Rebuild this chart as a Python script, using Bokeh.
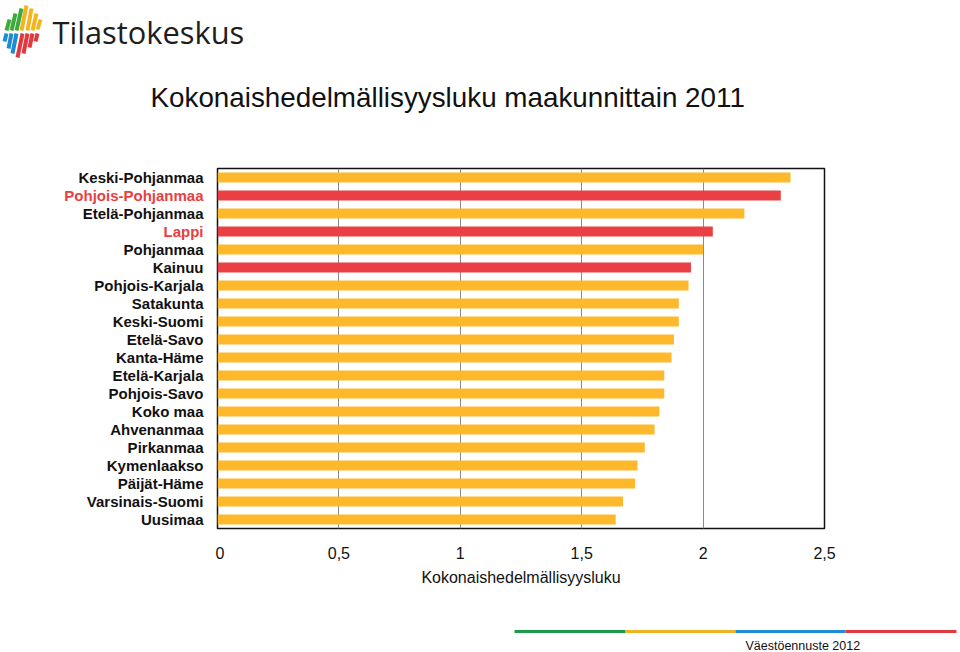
from bokeh.plotting import figure
from bokeh.models import ColumnDataSource, FactorRange, Range1d, FixedTicker
from bokeh.layouts import column, row
from bokeh.core.properties import value
from bokeh.embed import file_html
from bokeh.resources import INLINE

# ---- data ----
regions = ["Keski-Pohjanmaa", "Pohjois-Pohjanmaa", "Etelä-Pohjanmaa", "Lappi",
           "Pohjanmaa", "Kainuu", "Pohjois-Karjala", "Satakunta", "Keski-Suomi",
           "Etelä-Savo", "Kanta-Häme", "Etelä-Karjala", "Pohjois-Savo", "Koko maa",
           "Ahvenanmaa", "Pirkanmaa", "Kymenlaakso", "Päijät-Häme",
           "Varsinais-Suomi", "Uusimaa"]
tfr = [2.36, 2.32, 2.17, 2.04, 2.00, 1.95, 1.94, 1.90, 1.90, 1.88, 1.87, 1.84,
       1.84, 1.82, 1.80, 1.76, 1.73, 1.72, 1.67, 1.64]
highlight = ["Pohjois-Pohjanmaa", "Lappi", "Kainuu"]
label_red = ["Pohjois-Pohjanmaa", "Lappi"]
x_ticks = [0, 0.5, 1, 1.5, 2, 2.5]
x_tick_labels = ["0", "0,5", "1", "1,5", "2", "2,5"]
title_text = "Kokonaishedelmällisyysluku maakunnittain 2011"
x_title = "Kokonaishedelmällisyysluku"
footer_text = "Väestöennuste 2012"
logo_text = "Tilastokeskus"

ORANGE = "#FDB92B"
RED = "#EA4043"
TXT = "#111111"
FONT = value("Liberation Sans")

src = ColumnDataSource(dict(
    region=regions,
    value=tfr,
    color=[RED if r in highlight else ORANGE for r in regions],
    lcolor=["#E8403F" if r in label_red else TXT for r in regions],
))

yr = FactorRange(factors=list(reversed(regions)))

def blank(w, h, xr, yrng, **kw):
    f = figure(width=w, height=h, output_backend="svg", toolbar_location=None,
               x_range=xr, y_range=yrng, x_axis_type=None, y_axis_type=None,
               min_border=0, **kw)
    f.outline_line_color = None
    f.background_fill_color = "white"
    f.border_fill_color = "white"
    f.grid.visible = False
    return f

# ---- header: logo + title (pixel coordinates, y downward) ----
header = blank(960, 150, Range1d(0, 960), Range1d(150, 0))
header.text(x=[150], y=[97], text=[title_text], text_font=FONT,
            text_font_size="27.8px", text_baseline="middle", text_align="left",
            text_color=TXT)
header.text(x=[52], y=[31], text=[logo_text], text_font=value("Open Sans"),
            text_font_size="30.8px", text_baseline="middle", text_align="left",
            text_color="#1d1d1b")
stripes = [
    ((6, 30), (9, 19), "#3DAA3C"), ((11, 30), (15, 13), "#3DAA3C"),
    ((16, 30), (21, 8), "#3DAA3C"), ((21, 30), (26, 5), "#F2B51F"),
    ((27, 30), (31, 8), "#F2B51F"), ((32, 30), (36, 13), "#F2B51F"),
    ((37, 29), (40, 19), "#F2B51F"),
    ((6, 33), (4, 41), "#1E8CD4"), ((11, 33), (8, 48), "#1E8CD4"),
    ((16, 33), (12, 53), "#1E8CD4"), ((22, 33), (17, 57), "#E0393E"),
    ((27, 33), (23, 53), "#E0393E"), ((32, 33), (29, 47), "#E0393E"),
    ((37, 33), (35, 41), "#E0393E"),
]
header.segment(x0=[s[0][0] for s in stripes], y0=[s[0][1] for s in stripes],
               x1=[s[1][0] for s in stripes], y1=[s[1][1] for s in stripes],
               line_color=[s[2] for s in stripes], line_width=4)

# ---- left: category labels sharing the y range ----
labels = blank(215, 450, Range1d(0, 215), yr, min_border_top=18, min_border_bottom=72)
labels.text(x=203, y="region", text="region", source=src, text_font=FONT,
            text_font_style="bold", text_font_size="15px", text_align="right",
            text_baseline="middle", text_color="lcolor")

# ---- main chart ----
p = figure(width=745, height=450, output_backend="svg", toolbar_location=None,
           y_range=yr, x_range=Range1d(0, 2.5), y_axis_type=None,
           min_border_left=2, min_border_right=136,
           min_border_top=18, min_border_bottom=72)
p.background_fill_color = "white"
p.border_fill_color = "white"
p.outline_line_color = TXT
p.outline_line_width = 1.5

p.hbar(y="region", right="value", left=0, height=0.56, color="color",
       line_color=None, source=src)

xa = p.xaxis[0]
xa.ticker = FixedTicker(ticks=x_ticks)
xa.major_label_overrides = {t: l for t, l in zip(x_ticks, x_tick_labels)}
xa.axis_line_color = None
xa.major_tick_line_color = None
xa.minor_tick_line_color = None
xa.major_label_text_font = "Liberation Sans"
xa.major_label_text_font_size = "16px"
xa.major_label_text_color = TXT
xa.major_label_standoff = 12
xa.axis_label = x_title
xa.axis_label_text_font = "Liberation Sans"
xa.axis_label_text_font_style = "normal"
xa.axis_label_text_font_size = "16px"
xa.axis_label_text_color = TXT
xa.axis_label_standoff = 7

p.ygrid.visible = False
p.xgrid.ticker = FixedTicker(ticks=[0.5, 1, 1.5, 2])
p.xgrid.grid_line_color = "#8a8a8a"
p.xgrid.grid_line_width = 1

# ---- footer ----
footer = blank(960, 52, Range1d(0, 960), Range1d(52, 0))
fl = [(514, 625, "#1F9A4A"), (625, 735, "#F0B323"),
      (735, 845, "#1F8DD6"), (845, 956, "#E0393E")]
footer.segment(x0=[f[0] for f in fl], y0=[31] * 4, x1=[f[1] for f in fl], y1=[31] * 4,
               line_color=[f[2] for f in fl], line_width=3)
footer.text(x=[745], y=[45], text=[footer_text], text_font=FONT,
            text_font_size="12.5px", text_baseline="middle", text_align="left",
            text_color=TXT)

layout = column(header, row(labels, p, spacing=0), footer, spacing=0)
open("out.html", "w").write(file_html(layout, INLINE))
